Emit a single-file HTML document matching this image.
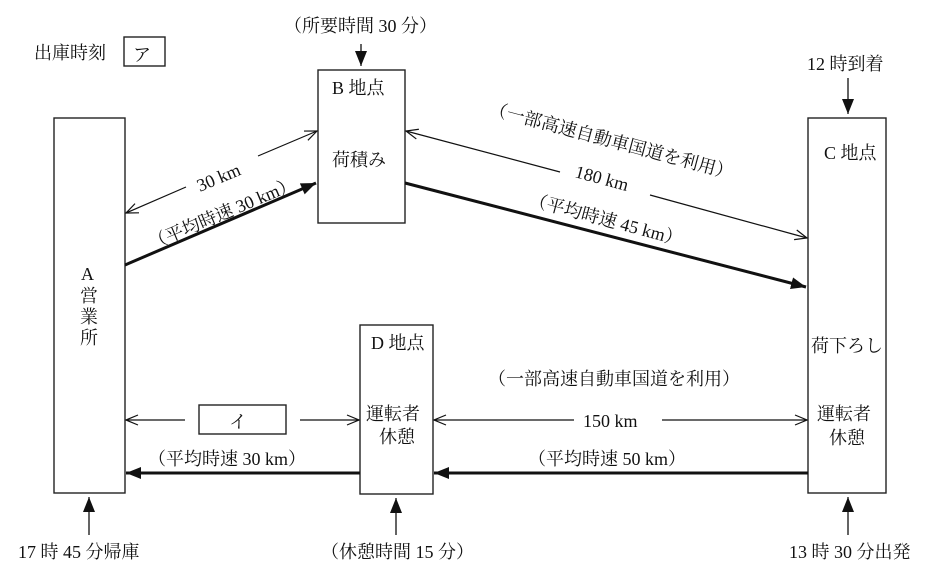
<!DOCTYPE html>
<html><head><meta charset="utf-8"><style>
html,body{margin:0;padding:0;background:#fff;}
svg{display:block;}
text{font-family:"Liberation Serif","Noto Serif CJK SC","Noto Sans CJK JP",serif;font-size:18px;fill:#111;}
</style></head><body>
<svg width="945" height="573" viewBox="0 0 945 573" xmlns="http://www.w3.org/2000/svg">
<defs>
<marker id="open" markerWidth="14" markerHeight="12" refX="13" refY="6" orient="auto" markerUnits="userSpaceOnUse"><path d="M1,1 L13,6 L1,11" fill="none" stroke="#111" stroke-width="1.2"/></marker>
<marker id="fill" markerWidth="16" markerHeight="12" refX="15" refY="6" orient="auto" markerUnits="userSpaceOnUse"><path d="M0,0 L15,6 L0,12 Z" fill="#111"/></marker>
</defs>
<g fill="none" stroke="#222" stroke-width="1.4">
<rect x="54" y="118" width="71" height="375"/>
<rect x="318" y="70" width="87" height="153"/>
<rect x="360" y="325" width="73" height="169"/>
<rect x="808" y="118" width="78" height="375"/>
<rect x="124" y="37" width="41" height="29"/>
<rect x="199" y="405" width="87" height="29"/>
</g>
<text x="34" y="59">出庫時刻</text>
<text x="133" y="61" font-size="22">ア</text>
<text x="284" y="32">（所要時間 30 分）</text>
<text x="332" y="94">B 地点</text>
<text x="332" y="166">荷積み</text>
<text x="371" y="349">D 地点</text>
<text x="366" y="420">運転者</text>
<text x="379" y="443">休憩</text>
<text x="824" y="159">C 地点</text>
<text x="811" y="352">荷下ろし</text>
<text x="817" y="420">運転者</text>
<text x="829" y="444">休憩</text>
<text x="807" y="70">12 時到着</text>
<text x="18" y="558">17 時 45 分帰庫</text>
<text x="321" y="558">（休憩時間 15 分）</text>
<text x="789" y="558">13 時 30 分出発</text>
<text x="81" y="280">A</text>
<text x="80" y="302">営</text>
<text x="80" y="323">業</text>
<text x="80" y="344">所</text>
<text x="229" y="428" font-size="22">イ</text>
<g stroke="#111" stroke-width="1.3">
<line x1="361" y1="44" x2="361" y2="66" marker-end="url(#fill)"/>
<line x1="848" y1="78" x2="848" y2="114" marker-end="url(#fill)"/>
<line x1="89" y1="535" x2="89" y2="497" marker-end="url(#fill)"/>
<line x1="396" y1="535" x2="396" y2="498" marker-end="url(#fill)"/>
<line x1="848" y1="535" x2="848" y2="497" marker-end="url(#fill)"/>
</g>
<g stroke="#111" stroke-width="1.2" fill="none">
<line x1="186" y1="187" x2="126" y2="213" marker-end="url(#open)"/>
<line x1="258" y1="156" x2="317" y2="131" marker-end="url(#open)"/>
<line x1="125" y1="265" x2="316" y2="183" stroke-width="3" marker-end="url(#fill)"/>
</g>
<text transform="translate(200,192) rotate(-23)">30 km</text>
<text transform="translate(152,250) rotate(-23)">（平均時速 30 km）</text>
<g stroke="#111" stroke-width="1.2" fill="none">
<line x1="560" y1="172" x2="406" y2="131" marker-end="url(#open)"/>
<line x1="650" y1="195" x2="807" y2="238" marker-end="url(#open)"/>
<line x1="405" y1="183" x2="806" y2="287" stroke-width="3" marker-end="url(#fill)"/>
</g>
<text transform="translate(488,114) rotate(15)">（一部高速自動車国道を利用）</text>
<text transform="translate(574,177) rotate(15)">180 km</text>
<text transform="translate(528,205) rotate(15)">（平均時速 45 km）</text>
<g stroke="#111" stroke-width="1.2" fill="none">
<line x1="185" y1="420" x2="126" y2="420" marker-end="url(#open)"/>
<line x1="300" y1="420" x2="359" y2="420" marker-end="url(#open)"/>
<line x1="574" y1="420" x2="434" y2="420" marker-end="url(#open)"/>
<line x1="662" y1="420" x2="807" y2="420" marker-end="url(#open)"/>
<line x1="360" y1="473" x2="126" y2="473" stroke-width="3" marker-end="url(#fill)"/>
<line x1="808" y1="473" x2="434" y2="473" stroke-width="3" marker-end="url(#fill)"/>
</g>
<text x="488" y="385">（一部高速自動車国道を利用）</text>
<text x="583" y="427">150 km</text>
<text x="148" y="465">（平均時速 30 km）</text>
<text x="528" y="465">（平均時速 50 km）</text>
</svg>
</body></html>
